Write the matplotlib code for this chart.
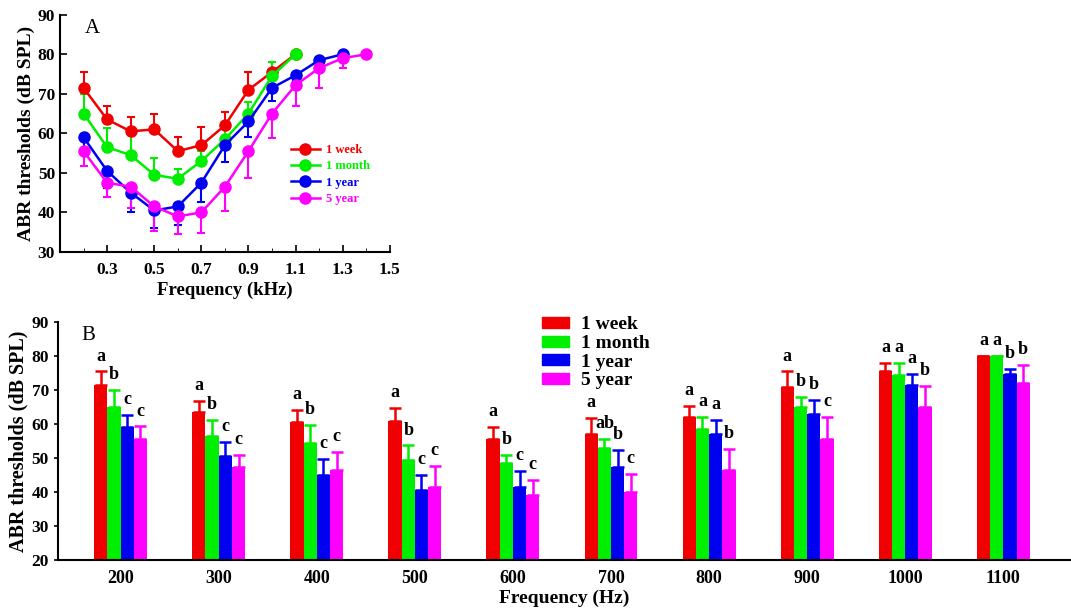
import numpy as np
import matplotlib
matplotlib.use('Agg')
import matplotlib.pyplot as plt
from matplotlib.patches import Patch
from matplotlib.lines import Line2D
from matplotlib.ticker import MultipleLocator

plt.rcParams['font.family'] = ['Liberation Serif', 'DejaVu Serif']
plt.rcParams['font.weight'] = 'bold'

groups = ['1 week', '1 month', '1 year', '5 year']
colors = ['#f00000', '#00ee00', '#0000f0', '#ff00ff']

# panel A (kHz)
freq_khz = [0.2, 0.3, 0.4, 0.5, 0.6, 0.7, 0.8, 0.9, 1.0, 1.1, 1.2, 1.3, 1.4]
wk_mean = [71.5, 63.5, 60.5, 61.0, 55.5, 57.0, 62.0, 71.0, 75.5, 80.0]
wk_err = [4.0, 3.3, 3.6, 3.8, 3.6, 4.7, 3.4, 4.5, 2.5, 0.0]
mo_mean = [65.0, 56.5, 54.5, 49.5, 48.5, 53.0, 58.5, 65.0, 74.5, 80.0]
mo_err = [5.0, 4.8, 5.2, 4.2, 2.4, 2.5, 3.7, 3.0, 3.6, 0.0]
yr_mean = [59.0, 50.5, 45.0, 40.5, 41.5, 47.5, 57.0, 63.0, 71.5, 74.7, 78.5, 80.0]
yr_err = [3.8, 4.3, 4.8, 4.4, 4.6, 4.8, 4.2, 4.0, 3.3, 1.5, 0.0, 0.0]
y5_mean = [55.5, 47.5, 46.5, 41.5, 39.0, 40.0, 46.5, 55.5, 65.0, 72.2, 76.5, 79.0, 80.0]
y5_err = [3.8, 3.5, 5.3, 6.3, 4.5, 5.2, 6.2, 6.7, 6.1, 5.3, 5.0, 2.5, 0.0]

# panel B (Hz)
freq_hz = ['200', '300', '400', '500', '600', '700', '800', '900', '1000', '1100']
letters = [
    ['a', 'a', 'a', 'a', 'a', 'a', 'a', 'a', 'a', 'a'],
    ['b', 'b', 'b', 'b', 'b', 'ab', 'a', 'b', 'a', 'a'],
    ['c', 'c', 'c', 'c', 'c', 'b', 'a', 'b', 'a', 'b'],
    ['c', 'c', 'c', 'c', 'c', 'c', 'b', 'c', 'b', 'b'],
]

means = [wk_mean, mo_mean, yr_mean, y5_mean]
errs = [wk_err, mo_err, yr_err, y5_err]
# error bar direction in panel A: up for first two, down for the others
updown = [1, 1, -1, -1]

fig = plt.figure(figsize=(10.71, 6.13), dpi=100)

# ---------- A ----------
axA = fig.add_axes([0.056, 0.589, 0.308, 0.387])
for k in range(4):
    n = len(means[k])
    x = np.array(freq_khz[:n])
    m = np.array(means[k])
    e = np.array(errs[k])
    if updown[k] > 0:
        yerr = [np.zeros(n), e]
    else:
        yerr = [e, np.zeros(n)]
    axA.errorbar(x, m, yerr=yerr, color=colors[k], marker='o', markersize=8,
                 lw=1.8, capsize=3, capthick=1.5, elinewidth=1.5)
axA.set_xlim(0.1, 1.5)
axA.set_ylim(30, 90)
axA.set_xticks([0.3, 0.5, 0.7, 0.9, 1.1, 1.3, 1.5])
axA.xaxis.set_minor_locator(MultipleLocator(0.1))
axA.set_yticks(range(30, 91, 10))
axA.spines['top'].set_visible(False)
axA.spines['right'].set_visible(False)
axA.spines['left'].set_linewidth(1.5)
axA.spines['bottom'].set_linewidth(1.5)
axA.tick_params(direction='in', labelsize=12.5, width=1.2, length=5)
axA.tick_params(axis='x', pad=7)
axA.tick_params(which='minor', direction='in', length=3)
axA.set_xlabel('Frequency (kHz)', fontsize=13.5, fontweight='bold', labelpad=3)
axA.set_ylabel('ABR thresholds (dB SPL)', fontsize=14, fontweight='bold', labelpad=2)
axA.text(0.205, 85.4, 'A', fontsize=15, fontweight='normal')
hA = [Line2D([], [], color=c, marker='o', markersize=8, lw=1.8) for c in colors]
legA = axA.legend(hA, groups, loc='upper left', bbox_to_anchor=(0.7, 0.455), frameon=False,
                  fontsize=9, handlelength=2.3, labelspacing=0.35, handletextpad=0.5,
                  borderaxespad=0, borderpad=0)
for t, c in zip(legA.get_texts(), colors):
    t.set_color(c)

# ---------- B ----------
axB = fig.add_axes([0.054, 0.0865, 0.946, 0.388])
idx = np.arange(len(freq_hz))
w = 0.135
for k in range(4):
    m = np.array(means[k][:len(freq_hz)])
    e = np.array(errs[k][:len(freq_hz)])
    xs = idx + (k - 1.5) * w
    axB.bar(xs, m - 20, w, bottom=20, color=colors[k])
    axB.errorbar(xs, m, yerr=[np.zeros(len(m)), e], fmt='none', ecolor=colors[k],
                 elinewidth=1.8, capsize=4, capthick=1.8)
    for j in range(len(m)):
        axB.text(xs[j], m[j] + e[j] + 3.2, letters[k][j], ha='center', va='baseline',
                 fontsize=13, fontweight='bold')
axB.set_xlim(-0.64, 9.69)
axB.set_ylim(20, 90)
axB.set_yticks(range(20, 91, 10))
axB.set_xticks(idx)
axB.set_xticklabels(freq_hz)
axB.tick_params(axis='x', length=0, labelsize=13, pad=7)
axB.tick_params(axis='y', direction='out', length=3, width=1.2, labelsize=12.5)
axB.spines['top'].set_visible(False)
axB.spines['right'].set_visible(False)
axB.spines['left'].set_linewidth(1.5)
axB.spines['bottom'].set_linewidth(1.5)
axB.set_xlabel('Frequency (Hz)', fontsize=14, fontweight='bold', labelpad=2)
axB.set_ylabel('ABR thresholds (dB SPL)', fontsize=14.5, fontweight='bold', labelpad=2)
axB.text(-0.40, 84.7, 'B', fontsize=15, fontweight='normal')
handles = [Patch(color=c) for c in colors]
axB.legend(handles, groups, loc='upper left', bbox_to_anchor=(0.478, 1.024), frameon=False,
           fontsize=14, handlelength=1.4, handleheight=0.5, labelspacing=0.08,
           handletextpad=0.6, borderaxespad=0, borderpad=0)

fig.savefig('out.png', dpi=100)
